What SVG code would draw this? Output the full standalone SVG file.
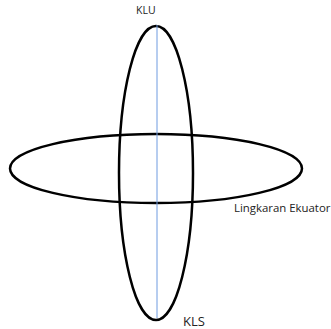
<svg xmlns="http://www.w3.org/2000/svg" width="331" height="329" viewBox="0 0 331 329">
<style>
.e{fill:none;stroke:#000;stroke-width:2.5}
.t{font-family:"Open Sans","Liberation Sans",sans-serif;fill:#222}
</style>
<rect width="331" height="329" fill="#fff"/>
<g id="vertical">
<ellipse class="e" cx="156" cy="173" rx="37" ry="147"/>
</g>
<g id="equator">
<ellipse class="e" cx="156" cy="168.5" rx="146" ry="34.5"/>
</g>
<g id="connectors">
<line x1="157" y1="25" x2="157" y2="318" stroke="#6f9be0" stroke-width="1"/>
</g>
<g id="klu"><text class="t" x="136" y="14" font-size="10.5">KLU</text></g>
<g id="kls"><text class="t" x="183" y="326" font-size="13">KLS</text></g>
<g id="label"><text class="t" x="234" y="212" font-size="11.4">Lingkaran Ekuator</text></g>
</svg>
